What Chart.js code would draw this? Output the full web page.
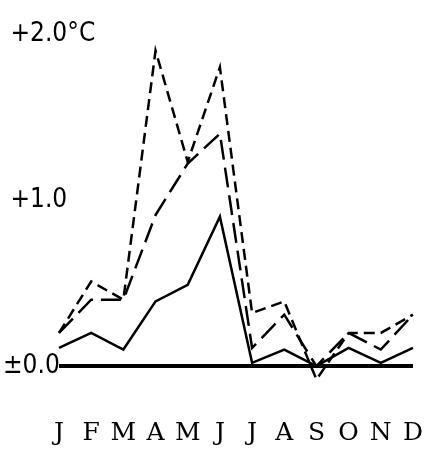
<!DOCTYPE html>
<html>
<head>
<meta charset="utf-8">
<script src="https://cdn.jsdelivr.net/npm/chart.js@4"></script>
<style>
  html, body { margin: 0; padding: 0; background: #fff; }
</style>
</head>
<body>
<canvas id="chart" width="425" height="451"></canvas>
<script>
// ------------------ DATA ------------------
const months = ["J", "F", "M", "A", "M", "J", "J", "A", "S", "O", "N", "D"];
const solidSeries = [0.11, 0.20, 0.10, 0.39, 0.49, 0.90, 0.02, 0.10, 0.00, 0.11, 0.02, 0.11];
const longDashSeries = [0.20, 0.40, 0.40, 0.91, 1.22, 1.40, 0.11, 0.31, 0.00, 0.20, 0.10, 0.31];
const shortDashSeries = [0.20, 0.51, 0.40, 1.90, 1.23, 1.80, 0.32, 0.39, -0.08, 0.20, 0.20, 0.31];
const yTickValues = [0, 1, 2];
const yTickLabels = ["±0.0", " +1.0", " +2.0°C"];

const labelFont = "'Liberation Sans Narrow', 'DejaVu Sans Condensed', sans-serif";

// ------------------ CHART ------------------
const ctx = document.getElementById("chart").getContext("2d");

function lineSet(label, data, dash) {
  return {
    label: label,
    data: data,
    borderColor: "#000",
    borderWidth: 2.5,
    borderDash: dash,
    borderCapStyle: "butt",
    pointRadius: 0,
    tension: 0,
    fill: false
  };
}

new Chart(ctx, {
  type: "line",
  data: {
    labels: months,
    datasets: [
      lineSet("solid", solidSeries, []),
      lineSet("long dash", longDashSeries, [20, 8]),
      lineSet("short dash", shortDashSeries, [11, 6])
    ]
  },
  options: {
    responsive: false,
    animation: false,
    layout: { padding: { top: 34, right: 12, bottom: 4, left: 3 } },
    plugins: { legend: { display: false }, tooltip: { enabled: false } },
    scales: {
      x: {
        type: "category",
        offset: false,
        afterFit: (scale) => { scale.height = 31; },
        grid: { display: false, drawTicks: false },
        border: { display: false },
        ticks: {
          color: "#000",
          padding: 2,
          maxRotation: 0,
          autoSkip: false,
          font: { family: "'DejaVu Serif', serif", size: 25 }
        }
      },
      y: {
        min: -0.3,
        max: 2.0,
        afterBuildTicks: (scale) => {
          scale.ticks = yTickValues.map(v => ({ value: v }));
        },
        afterFit: (scale) => { scale.width = 56; },
        grid: {
          drawTicks: false,
          // only the zero line is drawn, heavy
          color: (c) => (c.tick && c.tick.value === 0 ? "#000" : "rgba(0,0,0,0)"),
          lineWidth: (c) => (c.tick && c.tick.value === 0 ? 4 : 0)
        },
        border: { display: false },
        ticks: {
          color: "#000",
          mirror: true,        // mirrored so the long labels are not clipped to the axis box
          crossAlign: "near",
          padding: -56,
          font: { family: labelFont, size: 26 },
          callback: (value) => {
            const i = yTickValues.indexOf(value);
            return i >= 0 ? yTickLabels[i] : "";
          }
        }
      }
    }
  }
});
</script>
</body>
</html>
